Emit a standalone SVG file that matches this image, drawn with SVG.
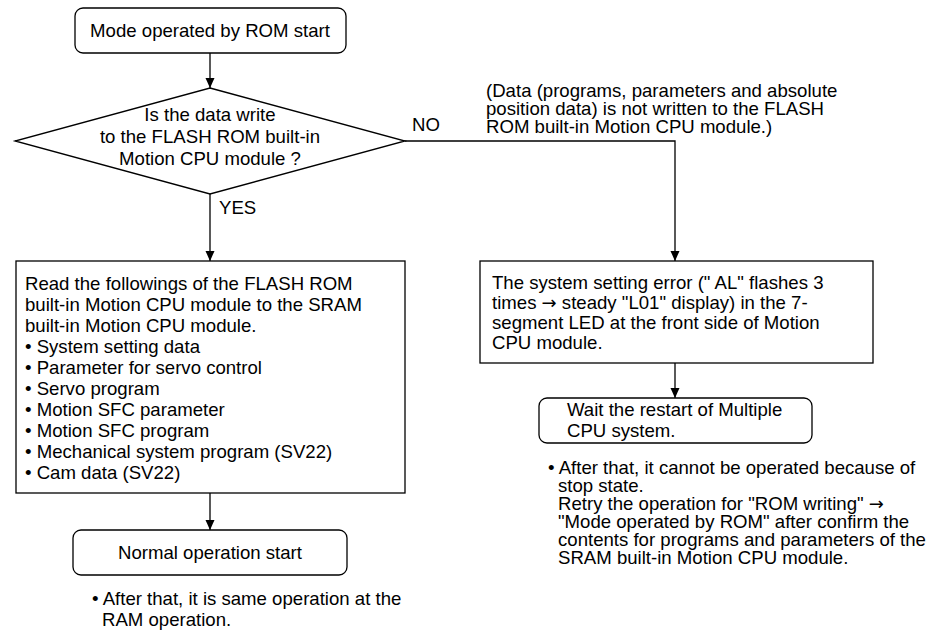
<svg xmlns="http://www.w3.org/2000/svg" width="934" height="635" viewBox="0 0 934 635">
<style>
text{font-family:"Liberation Sans",Arial,sans-serif;font-size:18.6px;fill:#000}
.c{text-anchor:middle}
.ar{font-family:"DejaVu Sans",sans-serif;font-size:18px}
.box{fill:#fff;stroke:#000;stroke-width:1.3}
.ln{fill:none;stroke:#000;stroke-width:1.3}
</style>
<defs>
<marker id="ah" viewBox="0 0 10 10" refX="10" refY="5" markerWidth="10" markerHeight="10" markerUnits="userSpaceOnUse" orient="auto">
<path d="M0,0.5 L10,5 L0,9.5 Z" fill="#000"/>
</marker>
</defs>
<g id="connectors">
<line class="ln" x1="210" y1="53" x2="210" y2="88" marker-end="url(#ah)"/>
<line class="ln" x1="210" y1="194" x2="210" y2="261" marker-end="url(#ah)"/>
<polyline class="ln" points="405,141 675,141 675,261" marker-end="url(#ah)"/>
<line class="ln" x1="210" y1="493" x2="210" y2="530" marker-end="url(#ah)"/>
<line class="ln" x1="675" y1="363" x2="675" y2="398" marker-end="url(#ah)"/>
<text x="219" y="214">YES</text>
<text x="412" y="131">NO</text>
</g>
<g id="start">
<rect class="box" x="75" y="8" width="271" height="45" rx="8"/>
<text class="c" x="210" y="37">Mode operated by ROM start</text>
</g>
<g id="decision">
<polygon class="box" points="210,88 405,141 210,194 15,141"/>
<text class="c" x="210" y="121">Is the data write</text>
<text class="c" x="210" y="143">to the FLASH ROM built-in</text>
<text class="c" x="210" y="165">Motion CPU module ?</text>
</g>
<g id="note-no">
<text x="486" y="97">(Data (programs, parameters and absolute</text>
<text x="486" y="115">position data) is not written to the FLASH</text>
<text x="486" y="133">ROM built-in Motion CPU module.)</text>
</g>
<g id="read">
<rect class="box" x="16" y="261" width="389" height="232"/>
<text x="25" y="290">Read the followings of the FLASH ROM</text>
<text x="25" y="311">built-in Motion CPU module to the SRAM</text>
<text x="25" y="332">built-in Motion CPU module.</text>
<text x="25" y="353">• System setting data</text>
<text x="25" y="374">• Parameter for servo control</text>
<text x="25" y="395">• Servo program</text>
<text x="25" y="416">• Motion SFC parameter</text>
<text x="25" y="437">• Motion SFC program</text>
<text x="25" y="458">• Mechanical system program (SV22)</text>
<text x="25" y="479">• Cam data (SV22)</text>
</g>
<g id="normal">
<rect class="box" x="73" y="530" width="274" height="45" rx="8"/>
<text class="c" x="210" y="559">Normal operation start</text>
</g>
<g id="note-normal">
<text x="92" y="605">• After that, it is same operation at the</text>
<text x="102" y="626">RAM operation.</text>
</g>
<g id="error">
<rect class="box" x="480" y="261" width="393" height="102"/>
<text x="492" y="289">The system setting error (" AL" flashes 3</text>
<text x="492" y="309">times <tspan class="ar">→</tspan> steady "L01" display) in the 7-</text>
<text x="492" y="329">segment LED at the front side of Motion</text>
<text x="492" y="349">CPU module.</text>
</g>
<g id="wait">
<rect class="box" x="539" y="398" width="273" height="45" rx="8"/>
<text x="567" y="416">Wait the restart of Multiple</text>
<text x="567" y="437">CPU system.</text>
</g>
<g id="note-wait">
<text x="548" y="474">• After that, it cannot be operated because of</text>
<text x="558" y="492">stop state.</text>
<text x="558" y="510">Retry the operation for "ROM writing" <tspan class="ar">→</tspan></text>
<text x="558" y="528">"Mode operated by ROM" after confirm the</text>
<text x="558" y="546">contents for programs and parameters of the</text>
<text x="558" y="564">SRAM built-in Motion CPU module.</text>
</g>
</svg>
